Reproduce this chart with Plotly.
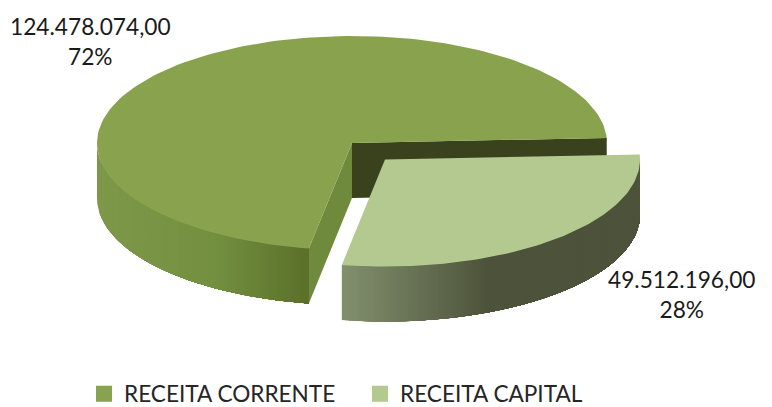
import math
import plotly.graph_objects as go

categories = ["RECEITA CORRENTE", "RECEITA CAPITAL"]
values = [124478074.00, 49512196.00]

top_colors = ["#89A24D", "#B3C990"]
cut_colors = ["#6F8A3C", "#8AA34F"]
inner_color = "#39411D"
wall_stops = [
    [(0.0, "#7E9849"), (0.55, "#739040"), (1.0, "#5B7029")],
    [(0.0, "#82906E"), (0.49, "#4D533A"), (1.0, "#4C533A")],
]

RX, RY, DEPTH = 255, 107, 55
START_DEG = 2.7
CENTERS = [(352, 143), (385, 159.5)]
total = sum(values)
sweep = [v / total * 360 for v in values]


def hex_rgb(h):
    return tuple(int(h[i:i + 2], 16) for i in (1, 3, 5))


def mix(stops, t):
    for (t0, c0), (t1, c1) in zip(stops, stops[1:]):
        if t <= t1:
            f = (t - t0) / (t1 - t0) if t1 > t0 else 0
            a, b = hex_rgb(c0), hex_rgb(c1)
            return "rgb(%d,%d,%d)" % tuple(round(a[i] + (b[i] - a[i]) * f) for i in range(3))
    return stops[-1][1]


def pt(c, deg, dz=0):
    r = math.radians(deg)
    return c[0] + RX * math.cos(r), c[1] - RY * math.sin(r) + dz


fig = go.Figure()


def poly(points, color):
    xs = [p[0] for p in points] + [points[0][0]]
    ys = [p[1] for p in points] + [points[0][1]]
    fig.add_trace(go.Scatter(x=xs, y=ys, mode="lines", fill="toself", fillcolor=color,
                             line=dict(color=color, width=0), hoverinfo="skip", showlegend=False))


def arc(c, a0, a1, n=160):
    return [pt(c, a0 + (a1 - a0) * i / n) for i in range(n + 1)]


def outer_wall(c, a0, a1, stops, strips=90):
    # Painted left to right; each band runs to the far end so no seams show.
    x0, x1 = c[0] + RX * math.cos(math.radians(a0)), c[0] + RX * math.cos(math.radians(a1))
    for i in range(strips):
        t = i / strips
        x = x0 + (x1 - x0) * t
        b = 360 - math.degrees(math.acos(max(-1, min(1, (x - c[0]) / RX))))
        poly(arc(c, b, a1, 60) + [pt(c, a1 + (b - a1) * k / 60, DEPTH) for k in range(61)],
             mix(stops, t + 0.5 / strips))


# main slice
c = CENTERS[0]
a0, a1 = START_DEG, START_DEG + sweep[0]
poly([c, pt(c, a0), pt(c, a0, DEPTH), (c[0], c[1] + DEPTH)], inner_color)
poly([c, pt(c, a1), pt(c, a1, DEPTH), (c[0], c[1] + DEPTH)], cut_colors[0])
outer_wall(c, 180, a1, wall_stops[0])
poly([c] + arc(c, a0, a1), top_colors[0])

# second slice
c = CENTERS[1]
b0, b1 = a1, a1 + sweep[1]
outer_wall(c, b0, 360, wall_stops[1])
poly([c] + arc(c, b0, b1, 80), top_colors[1])

# legend entries
for name, col in zip(categories, top_colors):
    fig.add_trace(go.Scatter(x=[None], y=[None], mode="markers", name=name,
                             marker=dict(symbol="square", size=16, color=col)))


def label(i):
    s = f"{values[i]:,.2f}".replace(",", "#").replace(".", ",").replace("#", ".")
    return f"{s}<br>{round(values[i] / total * 100)}%"


FONT = "Lato"
LABEL_POS = [(90, 41), (681, 294)]
for i, (x, y) in enumerate(LABEL_POS):
    fig.add_annotation(x=x, y=y, text=label(i), showarrow=False, align="center",
                       font=dict(family=FONT, size=22.7, color="#1a1a1a"))

fig.update_layout(
    width=772, height=407, margin=dict(l=0, r=0, t=0, b=0, autoexpand=False),
    paper_bgcolor="white", plot_bgcolor="white",
    xaxis=dict(range=[0, 772], visible=False, fixedrange=True),
    yaxis=dict(range=[407, 0], visible=False, fixedrange=True),
    legend=dict(orientation="h", x=0.1088, y=0.032, xanchor="left", yanchor="middle",
                font=dict(family=FONT, size=22.6, color="#262626"), bgcolor="rgba(0,0,0,0)",
                itemwidth=30, entrywidth=231, entrywidthmode="pixels", traceorder="normal"),
)

fig.write_html("out.html", post_script="document.body.style.margin='0';",
               config={"displayModeBar": False})
